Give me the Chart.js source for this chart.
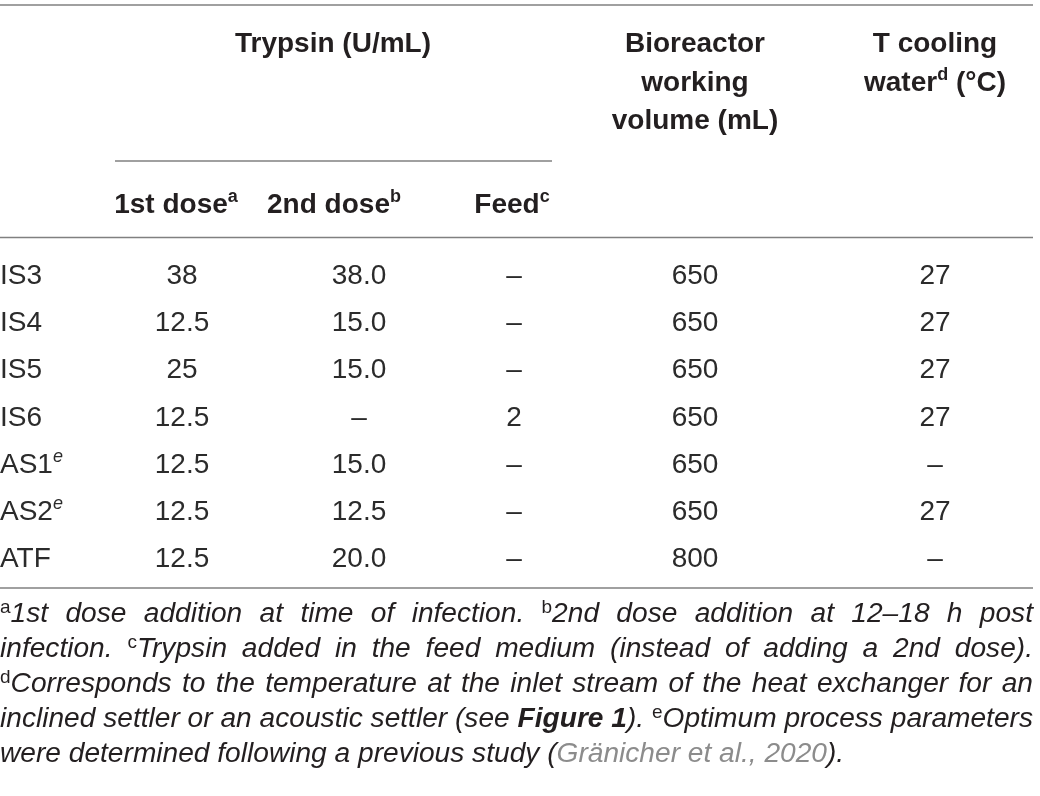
<!DOCTYPE html>
<html><head><meta charset="utf-8">
<script src="https://cdn.jsdelivr.net/npm/chart.js@4.4.1/dist/chart.umd.min.js"></script>
<style>html,body{margin:0;padding:0;background:#fff}#wrap{width:1040px;height:796px;position:relative}canvas{display:block}</style>
</head><body><div id="wrap"><canvas id="c" width="1040" height="796" style="width:1040px;height:796px"></canvas></div>
<script>
// ---- data ----
const rowLabels = ['IS3','IS4','IS5','IS6','AS1','AS2','ATF'];
const rowLabelSup = ['','','','','e','e',''];
const firstDose = [38, 12.5, 25, 12.5, 12.5, 12.5, 12.5];
const secondDose = [38.0, 15.0, 15.0, null, 15.0, 12.5, 20.0];
const feedDose = [null, null, null, 2, null, null, null];
const workingVolume = [650, 650, 650, 650, 650, 650, 800];
const coolingTemp = [27, 27, 27, 27, null, 27, null];
const groupHeader = 'Trypsin (U/mL)';
const subHeaders = [['1st dose','a'],['2nd dose','b'],['Feed','c']];
const volumeHeader = ['Bioreactor','working','volume (mL)'];
const coolingHeader = [['T cooling',''],['water','d',' (°C)']];

// ---- layout (positions/styles, not data) ----
const W = 1033;
const colCenters = [182, 359, 514, 695, 935];
const subHeaderCenters = [176, 334, 512];
const TXT = '#231f20';
const BODY = '#2b2b2b';
const RULE = '#808080';
const FAM = "'Liberation Sans', Arial, Helvetica, sans-serif";

function fmtFirst(v){ return v==null?'–':String(v); }
function fmtFixed1(v){ return v==null?'–':v.toFixed(1); }
function fmtInt(v){ return v==null?'–':String(v); }
const columns = [
  {vals:firstDose, fmt:fmtFirst},
  {vals:secondDose, fmt:fmtFixed1},
  {vals:feedDose, fmt:fmtInt},
  {vals:workingVolume, fmt:fmtInt},
  {vals:coolingTemp, fmt:fmtInt}
];

function rich(ctx, segs, x, y, align){
  let total = 0;
  segs.forEach(s=>{ctx.font=s.font; s.w=ctx.measureText(s.t).width; total+=s.w;});
  let cx = align==='center' ? x-total/2 : (align==='right'? x-total : x);
  segs.forEach(s=>{ctx.font=s.font; ctx.fillStyle=s.color||TXT; ctx.textAlign='left'; ctx.textBaseline='alphabetic'; ctx.fillText(s.t, cx, y+(s.dy||0)); cx+=s.w;});
}
function rule(ctx, y, x0, x1){
  ctx.save(); ctx.strokeStyle=RULE; ctx.lineWidth=1.6;
  ctx.beginPath(); ctx.moveTo(x0,y); ctx.lineTo(x1,y); ctx.stroke(); ctx.restore();
}

const B28 = 'bold 28px '+FAM, R28 = '28px '+FAM, SUPB = 'bold 18px '+FAM, SUPI = 'italic 18px '+FAM;

const footLines = [
  [['s','a'],['i','1st dose addition at time of infection. '],['s','b'],['i','2nd dose addition at 12–18 h post']],
  [['i','infection. '],['s','c'],['i','Trypsin added in the feed medium (instead of adding a 2nd dose).']],
  [['s','d'],['i','Corresponds to the temperature at the inlet stream of the heat exchanger for an']],
  [['i','inclined settler or an acoustic settler (see '],['b','Figure 1'],['i','). '],['s','e'],['i','Optimum process parameters']],
  [['i','were determined following a previous study ('],['g','Gränicher et al., 2020'],['i',').']]
];
const footBase = [622, 657, 692, 727, 762];

function styleOf(k, fs){
  if(k==='s') return {font:'19px '+FAM, dy:-9, color:TXT};
  if(k==='b') return {font:'italic bold '+fs+'px '+FAM, dy:0, color:TXT};
  if(k==='g') return {font:'italic '+fs+'px '+FAM, dy:0, color:'#8c8c8c'};
  return {font:'italic '+fs+'px '+FAM, dy:0, color:TXT};
}
function splitWords(ctx, runs, fs){
  const words=[[]];
  runs.forEach(([k,t])=>{
    t.split(' ').forEach((p,pi)=>{
      if(pi>0) words.push([]);
      if(p.length) words[words.length-1].push(Object.assign({t:p}, styleOf(k, fs)));
    });
  });
  const ws = words.filter(w=>w.length);
  let sum=0;
  ws.forEach(w=>{w.width=0; w.forEach(p=>{ctx.font=p.font; p.w=ctx.measureText(p.t).width; w.width+=p.w;}); sum+=w.width;});
  ctx.font='italic '+fs+'px '+FAM;
  return {ws, sum, sp:ctx.measureText(' ').width};
}
function drawFootLine(ctx, runs, y, justify, fs){
  const {ws, sum, sp} = splitWords(ctx, runs, fs);
  let gap = justify ? (W-sum)/(ws.length-1) : sp;
  let sx = 1;
  if(justify && gap < sp*0.7){ sx = (W - sp*0.7*(ws.length-1))/sum; gap = sp*0.7; }
  let x=0;
  ws.forEach(w=>{
    w.forEach(p=>{
      ctx.save(); ctx.font=p.font; ctx.fillStyle=p.color; ctx.textAlign='left'; ctx.textBaseline='alphabetic';
      ctx.translate(x, y+p.dy); ctx.scale(sx,1); ctx.fillText(p.t,0,0); ctx.restore();
      x+=p.w*sx;
    });
    x+=gap;
  });
}

const tablePlugin = {
  id:'tableText',
  afterDraw(chart){
    const ctx=chart.ctx, xs=chart.scales.x, ys=chart.scales.y;
    ctx.save();
    rule(ctx, 5, 0, W);
    rule(ctx, 161, 115, 552);
    rule(ctx, 237.5, 0, W);
    rule(ctx, 588, 0, W);
    rich(ctx, [{t:groupHeader, font:B28}], xs.getPixelForValue(333), 52, 'center');
    subHeaders.forEach((h,j)=>{
      rich(ctx, [{t:h[0], font:B28},{t:h[1], font:SUPB, dy:-11}], xs.getPixelForValue(subHeaderCenters[j]), 213, 'center');
    });
    volumeHeader.forEach((t,k)=>{
      rich(ctx, [{t, font:B28}], xs.getPixelForValue(colCenters[3]), 52+38.5*k, 'center');
    });
    rich(ctx, [{t:coolingHeader[0][0], font:B28}], xs.getPixelForValue(colCenters[4]), 52, 'center');
    rich(ctx, [{t:coolingHeader[1][0], font:B28},{t:coolingHeader[1][1], font:SUPB, dy:-11},{t:coolingHeader[1][2], font:B28}], xs.getPixelForValue(colCenters[4]), 90.5, 'center');
    rowLabels.forEach((lab,i)=>{
      const y = ys.getPixelForValue(i)+10;
      const segs=[{t:lab, font:R28, color:BODY}];
      if(rowLabelSup[i]) segs.push({t:rowLabelSup[i], font:SUPI, dy:-11, color:BODY});
      rich(ctx, segs, xs.getPixelForValue(0), y, 'left');
      columns.forEach((c,j)=>{
        rich(ctx, [{t:c.fmt(c.vals[i]), font:R28, color:BODY}], xs.getPixelForValue(colCenters[j]), y, 'center');
      });
    });
    // calibrate footnote size so the tightest line (4th) fits at natural spacing
    let fs = 25;
    for(let it=0; it<4; it++){
      const m = splitWords(ctx, footLines[3], fs);
      fs = fs * W / (m.sum + m.sp*(m.ws.length-1));
    }
    fs = Math.min(fs, 28.5);
    footLines.forEach((ln,k)=>drawFootLine(ctx, ln, footBase[k], k<footLines.length-1, fs));
    ctx.restore();
  }
};

new Chart(document.getElementById('c'), {
  type:'scatter',
  data:{ labels: rowLabels, datasets:[] },
  options:{
    responsive:false, animation:false, devicePixelRatio:1,
    layout:{padding:{top:250, bottom:215, left:0, right:0}},
    plugins:{legend:{display:false}, tooltip:{enabled:false}},
    scales:{
      x:{type:'linear', min:0, max:1040, display:false},
      y:{type:'category', labels:rowLabels, offset:true, display:false}
    }
  },
  plugins:[tablePlugin]
});
</script>
</body></html>
